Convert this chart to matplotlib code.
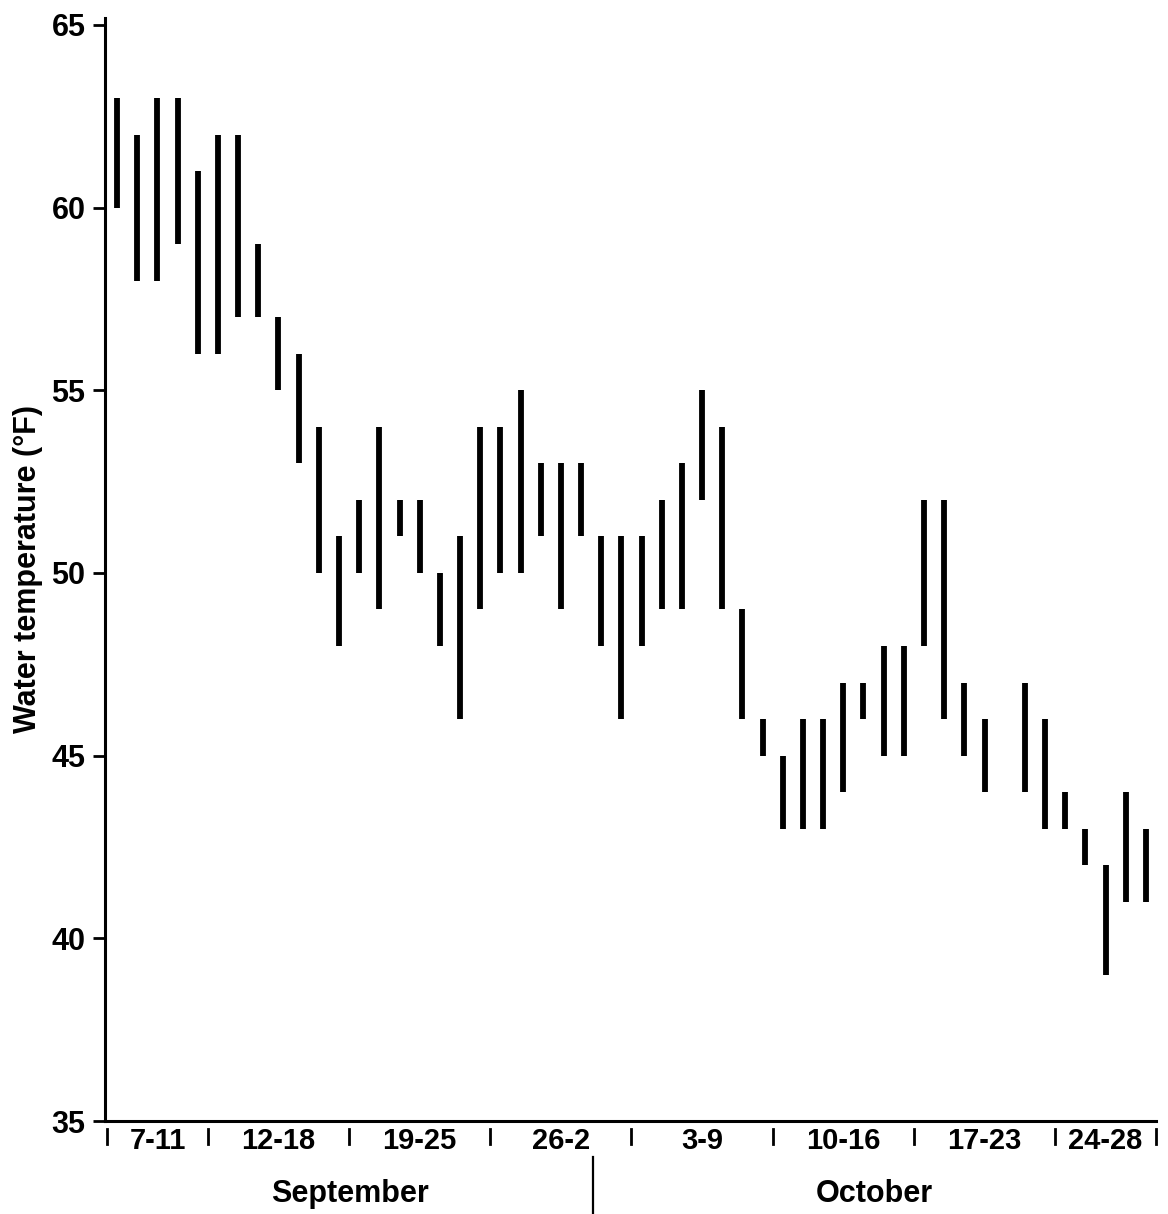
import numpy as np
import matplotlib
matplotlib.use("Agg")
import matplotlib.pyplot as plt
import matplotlib.transforms as mtransforms

plt.rcParams['font.family'] = ['Liberation Sans', 'DejaVu Sans']
plt.rcParams['font.weight'] = 'bold'

# daily water temperature range, Sep 7 .. Oct 28 (one day with no reading)
low = [60, 58, 58, 59, 56, 56, 57, 57, 55, 53, 50, 48, 50, 49, 51, 50, 48, 46, 49, 50,
       50, 51, 49, 51, 48, 46, 48, 49, 49, 52, 49, 46, 45, 43, 43, 43, 44, 46, 45, 45,
       48, 46, 45, 44, np.nan, 44, 43, 43, 42, 39, 41, 41]
high = [63, 62, 63, 63, 61, 62, 62, 59, 57, 56, 54, 51, 52, 54, 52, 52, 50, 51, 54, 54,
        55, 53, 53, 53, 51, 51, 51, 52, 53, 55, 54, 49, 46, 45, 46, 46, 47, 47, 48, 48,
        52, 52, 47, 46, np.nan, 47, 46, 44, 43, 42, 44, 43]

week_labels = ['7-11', '12-18', '19-25', '26-2', '3-9', '10-16', '17-23', '24-28']
week_bounds = [-0.5, 4.5, 11.5, 18.5, 25.5, 32.5, 39.5, 46.5, 51.5]
months = ['September', 'October']
month_split = 23.6

days = np.arange(len(low))

fig = plt.figure(figsize=(11.68, 12.14), dpi=100)
ax = fig.add_axes([0.0899, 0.0766, 0.8998, 0.9086])

ax.vlines(days, low, high, colors='black', linewidth=4.2)

ax.set_xlim(-0.6, 51.5)
ax.set_ylim(35, 65.19)
ax.set_yticks([35, 40, 45, 50, 55, 60, 65])
ax.tick_params(axis='y', direction='out', length=9, width=2, pad=5, labelsize=22)
ax.set_xticks([])
for s in ['top', 'right']:
    ax.spines[s].set_visible(False)
for s in ['left', 'bottom']:
    ax.spines[s].set_linewidth(2.2)

ax.set_ylabel('Water temperature (°F)', fontsize=22, fontweight='bold', labelpad=6)

trans = mtransforms.blended_transform_factory(ax.transData, ax.transAxes)
for b in week_bounds:
    ax.plot([b, b], [-0.007, -0.021], color='black', linewidth=2, transform=trans, clip_on=False)
for i, lab in enumerate(week_labels):
    xc = (week_bounds[i] + week_bounds[i + 1]) / 2
    ax.text(xc, -0.018, lab, transform=trans, ha='center', va='center', fontsize=21,
            fontweight='bold')

ax.plot([month_split, month_split], [-0.033, -0.09], color='black', linewidth=1.6,
        transform=trans, clip_on=False)
ax.text((week_bounds[0] + month_split) / 2, -0.066, months[0], transform=trans,
        ha='center', va='center', fontsize=22, fontweight='bold')
ax.text((month_split + week_bounds[-1]) / 2, -0.066, months[1], transform=trans,
        ha='center', va='center', fontsize=22, fontweight='bold')

fig.savefig('out.png', dpi=100)
